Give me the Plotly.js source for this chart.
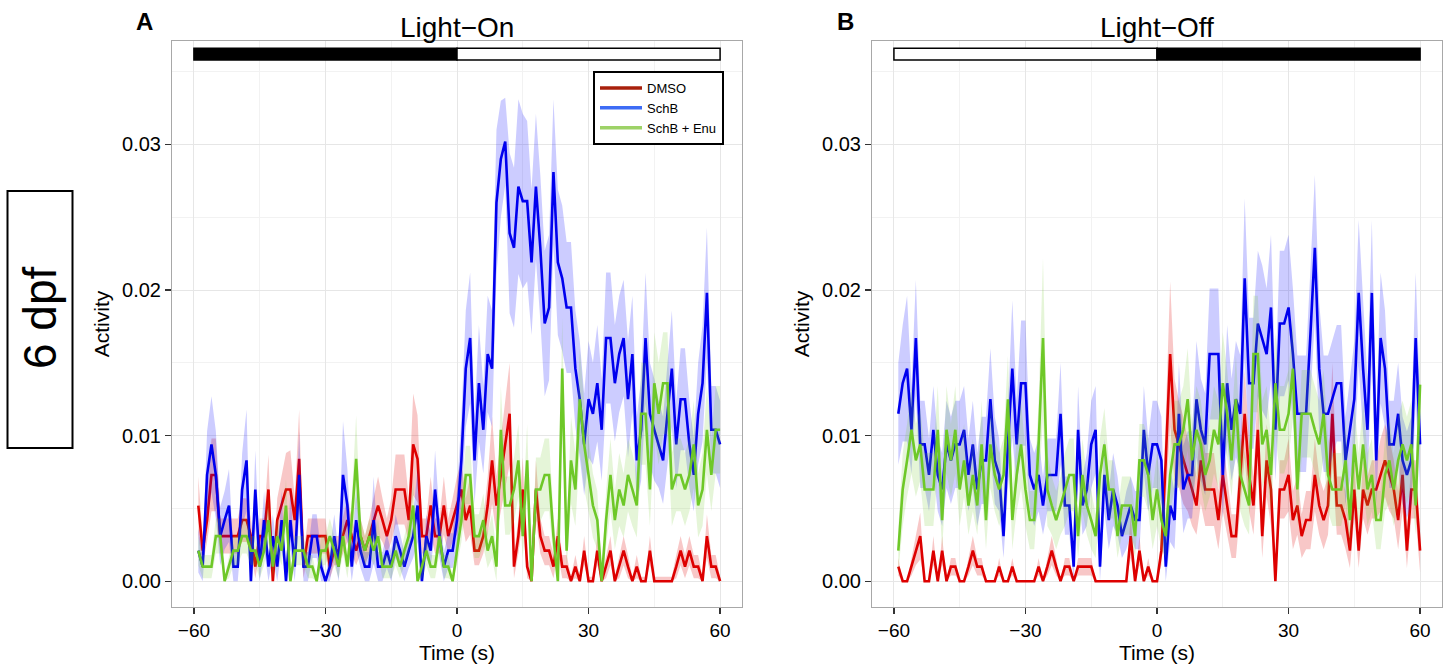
<!DOCTYPE html>
<html>
<head>
<meta charset="utf-8">
<script src="https://cdn.plot.ly/plotly-3.0.1.min.js"></script>
<style>
  html, body { margin: 0; padding: 0; background: #ffffff; }
  #chart { width: 1452px; height: 665px; }
</style>
</head>
<body>
<div id="chart"></div>
<script>
// ---------------- DATA (activity values read in thousandths) ----------------
const UNIT = 0.001;
const timeStart = -59, timeEnd = 60;        // 1-s bins, seconds relative to light change
const time = [];
for (let t = timeStart; t <= timeEnd; t++) time.push(t);

const xTicks = [-60, -30, 0, 30, 60];
const yTicks = [0, 0.01, 0.02, 0.03];
const groups = ['DMSO', 'SchB', 'SchB + Enu'];
const panelTitles = ['Light\u2212On', 'Light\u2212Off'];
const panelLetters = ['A', 'B'];
const stageLabel = '6 dpf';

// light-condition bar: edges in seconds and the state of each interval
const lightEdges = [-60, 0, 60];
const lightOnStates = ['dark', 'light'];
const lightOffStates = ['light', 'dark'];

// ---- Panel A: Light-On ----
const onDMSO = [
  5.2,2.1,4.2,7.3,7.3,3.1,3.1,3.1,3.1,3.1,
  4.2,4.2,3.1,1.0,3.1,3.1,6.3,0,4.2,5.2,
  6.3,6.3,4.2,8.4,1.0,3.1,3.1,3.1,3.1,3.1,
  1.0,2.1,2.1,3.1,4.2,3.1,2.1,3.1,2.1,3.1,
  4.2,5.2,4.2,3.1,4.2,6.3,6.3,6.3,4.2,9.4,
  8.4,3.1,3.1,5.2,3.1,3.1,5.2,3.1,4.2,5.2,
  6.3,4.2,5.2,2.1,2.1,3.1,5.2,8.3,5.2,7.3,
  9.4,11.5,1.0,3.1,6.3,1.0,0,6.3,3.1,2.1,
  2.1,1.0,3.1,1.0,1.0,0,1.0,0,2.1,0,
  0,2.1,0,1.0,2.1,0,1.0,2.1,1.0,0,
  1.0,0,0,2.1,0,0,0,0,0,1.0,
  2.1,1.0,2.1,1.0,1.0,0,3.1,1.0,1.0,0];
const onDMSOsem = [
  2,1,1.5,2.5,2.5,1.2,1.2,1.2,1.2,1.2,
  1.5,1.5,1.2,0.8,1.2,1.2,2.4,0.3,1.5,2,
  2.5,2.7,1.5,3.4,0.8,1.2,1.2,1.2,1.2,1.2,
  0.8,1,1,1.2,1.5,1.2,1,1.2,1,1.2,
  1.5,2,1.5,1.2,1.5,2.4,2.4,2.4,1.5,3.5,
  3,1.2,1.2,2,1.2,1.2,2,1.2,1.5,2,
  2,1.5,2,1,1,1.2,2,3,2,2.5,
  3,3.5,0.8,1.2,2.2,0.8,0.3,2,1.2,1,
  1,0.8,1.2,0.8,0.8,0.3,0.8,0.3,1,0.3,
  0.3,1,0.3,0.8,1,0.3,0.8,1,0.8,0.3,
  0.8,0.3,0.3,1,0.3,0.3,0.3,0.3,0.3,0.8,
  1,0.8,1,0.8,0.8,0.3,1.5,0.8,0.8,0.3];

const onSchB = [
  2.1,1.0,7.3,9.4,7.3,3.1,4.2,5.2,1.0,1.0,
  6.3,8.3,0,6.3,1.0,4.2,1.0,3.1,1.0,4.2,
  0,4.2,1.0,7.3,1.0,1.0,3.1,3.1,1.0,0,
  1.0,3.1,1.0,7.3,5.2,1.0,4.2,2.1,1.0,1.0,
  4.2,1.0,1.0,2.1,1.0,3.1,2.1,1.0,2.1,3.1,
  5.2,0,3.1,2.1,6.3,3.1,1.0,2.1,2.1,4.2,
  8.3,14.6,16.7,8.3,13.6,10.4,15.6,14.6,26.0,29.0,
  30.2,23.9,22.9,27.1,26.1,26.1,21.9,27.1,22.9,17.7,
  18.8,28.1,21.9,20.8,18.8,18.8,14.6,12.5,9.4,12.5,
  11.5,13.6,10.4,16.7,16.7,13.6,15.6,16.7,12.5,15.6,
  8.3,10.4,16.7,11.5,10.4,9.4,8.3,11.5,14.6,9.4,
  12.5,12.5,9.4,7.3,11.5,13.6,19.8,10.4,10.4,9.4];
const onSchBsem = [
  1.5,1,3,3.3,3,2,2,2.5,1,1,
  2.5,3.5,0.3,2.7,1,2,1,1.5,1,2,
  0.3,2,1,3,1,1,1.5,1.5,1,0.3,
  1,1.5,1,3.7,2.5,1,2,1.2,1,1,
  3,1,1,1.2,1,1.5,1.2,1,1.2,1.5,
  2.5,0.3,1.5,1.2,2.7,1.5,1,1.2,1.2,2,
  3,4,4.5,3,4,3,4,4,5,4,
  3,5.5,5.5,6,6,5.5,5,5,5,5,
  5,5,5,5,4.5,4.5,4,4,3.5,4,
  3.5,4,3.5,4.5,4.5,4,4,4,4,4,
  3,3.5,4.5,3.5,3.5,3,3,3.5,4,3,
  3.5,3.5,3,2.5,3.5,4,4.5,3,3,3];

const onEnu = [
  2.1,1.0,1.0,1.0,3.1,3.1,0,1.0,2.1,2.1,
  3.1,3.1,2.1,2.1,1.0,2.1,4.2,1.0,3.1,2.1,
  5.2,0,2.1,2.1,2.1,1.0,1.0,0,2.1,2.1,
  3.1,2.1,1.0,3.1,1.0,4.2,8.4,3.1,2.1,3.1,
  2.1,3.1,1.0,1.0,1.0,2.1,1.0,2.1,3.1,5.2,
  0,1.0,2.1,1.0,1.0,3.1,1.0,1.0,0,2.1,
  4.2,7.3,7.3,3.1,3.1,4.2,2.1,3.1,1.0,10.4,
  5.2,5.2,6.3,8.3,3.1,8.3,0,6.3,6.3,7.3,
  7.3,3.1,0,14.6,2.1,8.3,6.3,12.5,9.4,7.3,
  5.2,4.2,0,4.2,7.3,4.2,6.3,5.2,7.3,6.3,
  5.2,11.5,11.5,6.3,13.6,11.5,13.6,13.6,6.3,7.3,
  7.3,6.3,7.3,9.4,5.2,6.3,10.4,7.3,10.4,10.4];
const onEnuSem = [
  1,0.8,0.8,0.8,1.2,1.2,0.3,0.8,1,1,
  1.2,1.2,1,1,0.8,1,1.5,0.8,1.2,1,
  1.8,0.3,1,1,1,0.8,0.8,0.3,1,1,
  1.2,1,0.8,1.2,0.8,1.5,3,1.2,1,1.2,
  1,1.2,0.8,0.8,0.8,1,0.8,1,1.2,1.8,
  0.3,0.8,1,0.8,0.8,1.2,0.8,0.8,0.3,1,
  1.5,2,2,1.5,1.5,1.8,1.2,1.5,1,3,
  2,2,2.2,2.5,1.5,2.5,0.5,2.2,2.2,2.5,
  2.5,1.5,0.5,3.5,1.2,3,2.5,3.5,3,2.5,
  2.2,2,0.5,2,2.5,2,2.5,2.2,2.5,2.5,
  2.2,3.5,3.5,2.5,3.5,3.5,3.5,3.5,2.5,2.5,
  2.5,2.5,2.5,3,2.2,2.5,3,2.5,3,3];

// ---- Panel B: Light-Off ----
const offDMSO = [
  1.0,0,0,1.0,2.1,3.1,0,0,2.1,0,
  2.1,0,1.0,1.0,0,0,1.0,2.1,1.0,1.0,
  0,0,0,1.0,0,0,1.0,0,0,0,
  0,0,1.0,0,1.0,2.1,1.0,0,1.0,1.0,
  0,1.0,1.0,1.0,1.0,0,0,0,0,0,
  0,0,0,3.1,0,2.1,0,1.0,0,0,
  2.1,8.3,15.6,10.4,9.4,8.3,7.3,6.3,5.2,8.3,
  6.3,6.3,6.3,4.2,7.3,5.2,3.1,3.1,7.3,11.5,
  7.3,5.2,10.4,3.1,8.3,6.3,0,6.3,6.3,7.3,
  4.2,5.2,3.1,4.2,4.2,7.3,5.2,4.2,5.2,11.5,
  5.2,5.2,4.2,2.1,6.3,2.1,6.3,5.2,6.3,6.3,
  7.3,8.3,7.3,6.3,4.2,7.3,2.1,6.3,6.3,2.1];
const offDMSOsem = [
  0.6,0,0,0.6,1,1.6,0,0,1,0,
  1,0,0.6,0.6,0,0,0.6,1,0.6,0.6,
  0,0,0,0.6,0,0,0.6,0,0,0,
  0,0,0.6,0,0.6,1,0.6,0,0.6,0.6,
  0,0.6,0.6,0.6,0.6,0,0,0,0,0,
  0,0,0,1.5,0,1,0,0.6,0,0,
  1,3,5,3.5,3,3,2.5,2.5,2,3,
  2.5,2.5,2.5,2,2.5,2,1.5,1.5,2.5,3,
  2.5,2,3,1.5,2.5,2.5,0.3,2,2,2.5,
  2,2,1.5,2,2,2.5,2,2,2,3.5,
  2,2,2,1.2,2,1.2,2,2,2,2,
  2.5,2.5,2.5,2,2,2.5,1.2,2,2,1.5];

const offSchB = [
  11.5,13.6,14.6,10.4,16.7,9.4,9.4,7.3,10.4,7.3,
  6.3,9.4,8.3,9.4,9.4,10.4,7.3,9.4,6.3,8.3,
  8.3,12.5,8.3,7.3,3.1,9.4,14.6,9.4,13.6,13.6,
  7.3,6.3,7.3,5.2,7.3,7.3,7.3,11.5,5.2,5.2,
  1.0,10.4,5.2,6.3,9.4,10.4,1.0,7.3,4.2,6.3,
  5.2,3.1,4.2,5.2,4.2,4.2,10.4,7.3,9.4,9.4,
  8.3,1.0,5.2,4.2,11.5,6.3,7.3,7.3,12.5,10.4,
  9.4,15.6,15.6,15.6,7.3,13.6,10.4,12.5,11.5,20.8,
  13.6,13.6,17.7,16.7,15.6,18.8,10.4,17.7,17.7,18.8,
  15.6,11.5,11.5,11.5,17.0,22.9,14.6,11.5,11.5,12.5,
  13.6,13.6,8.3,10.4,12.5,19.8,14.6,10.4,19.8,8.3,
  16.7,14.6,9.4,9.4,11.5,8.3,7.3,8.3,16.7,9.4];
const offSchBsem = [
  3.5,4,5,3,4,3,3,2.5,3,2.5,
  2.5,3,3,3,3,3,2.5,3,2.5,3,
  3,3.5,3,2.5,1.5,3,4.7,3,4.3,4.3,
  2.5,2.5,2.5,2,2.5,2.5,2.5,3.5,2,2,
  1,3,2,2.5,3,3,1,2.5,2,2.5,
  2,1.5,2,2,2,2,3,2.5,3,3,
  3,1.5,2.5,2,3.5,3,3,3,4,3.5,
  3.5,4.5,4.5,4.5,3,4,3.5,4,4,5.5,
  4.5,4.5,5,5,4.5,5,3.5,5,5,5,
  4.5,4,4,4,4.5,5,4.5,4,4,4,
  4,4,3,3.5,4,5,4.5,3.5,5,3,
  4.5,4,3,3,3.5,3,3,3,4.5,3];

const offEnu = [
  2.1,6.3,8.3,10.4,8.3,9.4,6.3,6.3,6.3,10.4,
  4.2,10.4,8.3,10.4,6.3,8.3,5.2,7.3,5.2,9.4,
  4.2,9.4,7.3,6.3,7.3,12.5,4.2,7.3,9.4,6.3,
  4.2,4.2,9.4,16.7,6.3,5.2,4.2,5.2,6.3,7.3,
  7.3,3.1,7.3,5.2,4.2,3.1,7.3,9.4,6.3,6.3,
  3.1,5.2,5.2,5.2,3.1,8.3,8.3,7.3,4.2,6.3,
  4.2,3.1,7.3,9.4,9.4,10.4,12.5,8.3,10.4,9.4,
  7.3,8.3,10.4,9.4,13.6,11.5,8.3,12.5,7.3,6.3,
  5.2,15.6,15.6,9.4,10.4,7.3,13.6,10.4,10.4,11.5,
  14.6,6.3,11.5,11.5,11.5,10.4,9.4,11.5,7.3,6.3,
  6.3,6.3,8.3,4.2,9.4,6.3,9.4,6.3,7.3,4.2,
  4.2,7.3,8.3,6.3,8.3,9.4,8.3,9.4,5.2,13.5];
const offEnuSem = [
  1.5,2.5,2.5,3,2.5,2.5,2.5,2.5,2.5,3,
  2,3,2.5,3,2.5,2.5,2,2.5,2,3,
  2,3,2.5,2.5,2.5,3,2,2.5,3,2.5,
  2,2,3,5.5,2.5,2,2,2,2.5,2.5,
  2.5,1.5,2.5,2,2,1.5,2.5,2.5,2,2,
  1.5,2,2,2,1.5,2.5,2.5,2.5,2,2.5,
  2,1.5,2.5,3,3,3,3.5,2.5,3,3,
  2.5,2.5,3,3,3.5,3,2.5,3,2.5,2.5,
  2,4,4,3,3,2.5,3.5,3,3,3,
  3.5,2.5,3,3,3,3,3,3,2.5,2.5,
  2.5,2.5,3,2,3,2.5,3,2.5,2.5,2,
  2,2.5,3,2.5,3,3,3,3,2,3.5];

// ---------------- STYLE ----------------
const lineColors   = ['#dd0000', '#0000ee', '#6ec828'];
const ribbonColors = ['rgba(225,0,0,0.22)', 'rgba(0,0,255,0.20)', 'rgba(110,200,40,0.18)'];
const legendColors = ['#a8200c', '#3d6cf5', '#9dd267'];
const FONT = 'Liberation Sans, Arial, Helvetica, sans-serif';

const W = 1452, H = 665;
const px = v => v / W, py = v => 1 - v / H;
const domA = [px(172), px(742)];
const domB = [px(872), px(1442)];
const domY = [py(607), py(41)];

const panels = [
  { xa: 'x',  ya: 'y',  series: [[onDMSO, onDMSOsem], [onSchB, onSchBsem], [onEnu, onEnuSem]] },
  { xa: 'x2', ya: 'y2', series: [[offDMSO, offDMSOsem], [offSchB, offSchBsem], [offEnu, offEnuSem]] }
];

const traces = [];
panels.forEach(p => {
  p.series.forEach(([vals, sem], g) => {
    const mean  = vals.map(v => v * UNIT);
    const upper = vals.map((v, i) => (v + sem[i]) * UNIT);
    const lower = vals.map((v, i) => Math.max(0, v - sem[i]) * UNIT);
    traces.push({
      x: time.concat(time.slice().reverse()),
      y: upper.concat(lower.slice().reverse()),
      xaxis: p.xa, yaxis: p.ya, type: 'scatter', mode: 'lines',
      fill: 'toself', fillcolor: ribbonColors[g], line: { width: 0 },
      hoverinfo: 'skip', showlegend: false
    });
    traces.push({
      x: time, y: mean, xaxis: p.xa, yaxis: p.ya, type: 'scatter', mode: 'lines',
      line: { color: lineColors[g], width: 2.6 }, showlegend: false, name: groups[g]
    });
  });
});
// legend keys
groups.forEach((name, g) => {
  traces.push({
    x: [null], y: [null], xaxis: 'x', yaxis: 'y', type: 'scatter', mode: 'lines',
    name: name, line: { color: legendColors[g], width: 3.5 }, showlegend: true
  });
});

function xAxis(domain, anchor) {
  return {
    domain: domain, anchor: anchor, range: [-65, 65],
    tickmode: 'array', tickvals: xTicks,
    ticks: 'outside', ticklen: 6, tickwidth: 1.3, tickcolor: '#333333',
    ticklabelstandoff: 0,
    showline: true, mirror: true, linecolor: '#a8a8a8', linewidth: 1,
    showgrid: true, gridcolor: '#e6e6e6', gridwidth: 1, zeroline: false,
    minor: { dtick: 15, tick0: 0, showgrid: true, gridcolor: '#f2f2f2', gridwidth: 1, ticks: '' },
    tickfont: { family: FONT, size: 19, color: '#000000' },
    title: { text: 'Time (s)', font: { family: FONT, size: 21, color: '#000000' }, standoff: 5 }
  };
}
function yAxis(anchor) {
  return {
    domain: domY, anchor: anchor, range: [-0.00177, 0.0371],
    tickmode: 'array', tickvals: yTicks, tickformat: '.2f',
    ticks: 'outside', ticklen: 6, tickwidth: 1.3, tickcolor: '#333333',
    showline: true, mirror: true, linecolor: '#a8a8a8', linewidth: 1,
    showgrid: true, gridcolor: '#e6e6e6', gridwidth: 1, zeroline: false,
    minor: { dtick: 0.005, tick0: 0, showgrid: true, gridcolor: '#f2f2f2', gridwidth: 1, ticks: '' },
    tickfont: { family: FONT, size: 20, color: '#000000' },
    title: { text: 'Activity', font: { family: FONT, size: 21, color: '#000000' }, standoff: 6 }
  };
}

// light bars
const shapes = [];
[[lightOnStates, 'x', 'y'], [lightOffStates, 'x2', 'y2']].forEach(([states, xr, yr]) => {
  states.forEach((s, i) => {
    shapes.push({
      type: 'rect', xref: xr, yref: yr,
      x0: lightEdges[i], x1: lightEdges[i + 1], y0: 0.0358, y1: 0.0366,
      fillcolor: s === 'dark' ? '#000000' : '#ffffff',
      line: { color: '#000000', width: 1.5 }, layer: 'above'
    });
  });
});
// stage box
shapes.push({ type: 'rect', xref: 'paper', yref: 'paper',
  x0: px(7.5), x1: px(72.5), y0: py(448), y1: py(191),
  line: { color: '#000000', width: 2 }, fillcolor: 'rgba(0,0,0,0)' });

const annotations = [
  { text: panelTitles[0], x: (domA[0] + domA[1]) / 2, y: py(27), xref: 'paper', yref: 'paper',
    showarrow: false, xanchor: 'center', yanchor: 'middle', font: { family: FONT, size: 28, color: '#000' } },
  { text: panelTitles[1], x: (domB[0] + domB[1]) / 2, y: py(27), xref: 'paper', yref: 'paper',
    showarrow: false, xanchor: 'center', yanchor: 'middle', font: { family: FONT, size: 28, color: '#000' } },
  { text: '<b>' + panelLetters[0] + '</b>', x: px(144), y: py(22), xref: 'paper', yref: 'paper',
    showarrow: false, xanchor: 'center', yanchor: 'middle', font: { family: FONT, size: 24, color: '#000' } },
  { text: '<b>' + panelLetters[1] + '</b>', x: px(845), y: py(22), xref: 'paper', yref: 'paper',
    showarrow: false, xanchor: 'center', yanchor: 'middle', font: { family: FONT, size: 24, color: '#000' } },
  { text: stageLabel, x: px(40), y: py(318), xref: 'paper', yref: 'paper', textangle: -90,
    showarrow: false, xanchor: 'center', yanchor: 'middle', font: { family: FONT, size: 46, color: '#000' } }
];

const layout = {
  width: W, height: H,
  margin: { l: 0, r: 0, t: 0, b: 0 },
  paper_bgcolor: '#ffffff', plot_bgcolor: '#ffffff',
  font: { family: FONT, color: '#000000' },
  xaxis: xAxis(domA, 'y'), yaxis: yAxis('x'),
  xaxis2: xAxis(domB, 'y2'), yaxis2: yAxis('x2'),
  shapes: shapes, annotations: annotations,
  showlegend: true,
  legend: {
    x: px(593), y: py(71), xanchor: 'left', yanchor: 'top',
    bgcolor: '#ffffff', bordercolor: '#000000', borderwidth: 2,
    font: { family: FONT, size: 13, color: '#000000' },
    itemwidth: 42, tracegroupgap: 0, traceorder: 'normal'
  }
};

Plotly.newPlot('chart', traces, layout, { displayModeBar: false, staticPlot: true });
</script>
</body>
</html>
